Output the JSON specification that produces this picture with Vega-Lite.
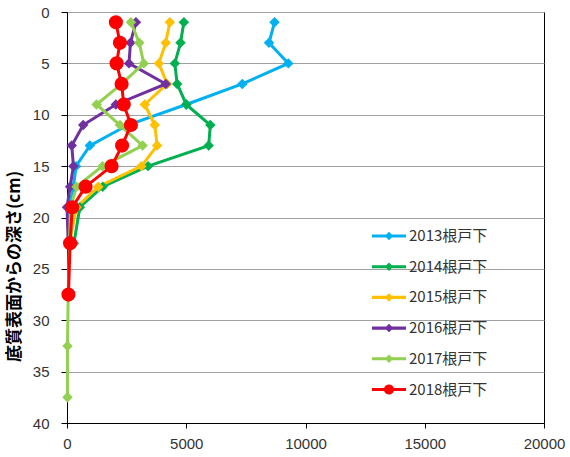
{
  "$schema": "https://vega.github.io/schema/vega-lite/v6.json",
  "autosize": {"type": "none"},
  "width": 477,
  "height": 411,
  "padding": {"left": 67, "top": 12, "right": 26, "bottom": 34},
  "background": "white",
  "config": {
    "view": {"stroke": "#000000", "strokeWidth": 1},
    "font": "Liberation Sans",
    "axis": {"labelFont": "Liberation Sans", "labelFontSize": 15, "labelColor": "#333333", "domainColor": "#000000", "tickColor": "#000000", "domainWidth": 1, "tickWidth": 1},
    "legend": {"orient": "none", "legendX": 305, "legendY": 207, "padding": 0, "symbolSize": 1156, "symbolStrokeWidth": 0, "symbolOpacity": 1,
      "labelFont": "Noto Sans CJK JP", "labelFontSize": 15, "labelColor": "#333333", "labelOffset": 3, "rowPadding": 5.7}
  },
  "data": {"values": [
    {"series": "2013根戸下", "depth": 1, "value": 8700},
    {"series": "2013根戸下", "depth": 3, "value": 8470},
    {"series": "2013根戸下", "depth": 5, "value": 9280},
    {"series": "2013根戸下", "depth": 7, "value": 7350},
    {"series": "2013根戸下", "depth": 9, "value": 5000},
    {"series": "2013根戸下", "depth": 11, "value": 2550},
    {"series": "2013根戸下", "depth": 13, "value": 960},
    {"series": "2013根戸下", "depth": 15, "value": 380},
    {"series": "2013根戸下", "depth": 17, "value": 270},
    {"series": "2013根戸下", "depth": 19, "value": 100},
    {"series": "2013根戸下", "depth": 22.5, "value": 50},
    {"series": "2014根戸下", "depth": 1, "value": 4900},
    {"series": "2014根戸下", "depth": 3, "value": 4760},
    {"series": "2014根戸下", "depth": 5, "value": 4520},
    {"series": "2014根戸下", "depth": 7, "value": 4620},
    {"series": "2014根戸下", "depth": 9, "value": 5000},
    {"series": "2014根戸下", "depth": 11, "value": 6010},
    {"series": "2014根戸下", "depth": 13, "value": 5940},
    {"series": "2014根戸下", "depth": 15, "value": 3400},
    {"series": "2014根戸下", "depth": 17, "value": 1500},
    {"series": "2014根戸下", "depth": 19, "value": 540},
    {"series": "2014根戸下", "depth": 22.5, "value": 290},
    {"series": "2015根戸下", "depth": 1, "value": 4310},
    {"series": "2015根戸下", "depth": 3, "value": 4140},
    {"series": "2015根戸下", "depth": 5, "value": 3850},
    {"series": "2015根戸下", "depth": 7, "value": 4200},
    {"series": "2015根戸下", "depth": 9, "value": 3260},
    {"series": "2015根戸下", "depth": 11, "value": 3680},
    {"series": "2015根戸下", "depth": 13, "value": 3780},
    {"series": "2015根戸下", "depth": 15, "value": 3120},
    {"series": "2015根戸下", "depth": 17, "value": 1310},
    {"series": "2015根戸下", "depth": 19, "value": 400},
    {"series": "2015根戸下", "depth": 22.5, "value": 100},
    {"series": "2016根戸下", "depth": 1, "value": 2890},
    {"series": "2016根戸下", "depth": 3, "value": 2660},
    {"series": "2016根戸下", "depth": 5, "value": 2600},
    {"series": "2016根戸下", "depth": 7, "value": 4140},
    {"series": "2016根戸下", "depth": 9, "value": 2050},
    {"series": "2016根戸下", "depth": 11, "value": 680},
    {"series": "2016根戸下", "depth": 13, "value": 200},
    {"series": "2016根戸下", "depth": 15, "value": 270},
    {"series": "2016根戸下", "depth": 17, "value": 130},
    {"series": "2016根戸下", "depth": 19, "value": 0},
    {"series": "2016根戸下", "depth": 22.5, "value": 50},
    {"series": "2017根戸下", "depth": 1, "value": 2680},
    {"series": "2017根戸下", "depth": 3, "value": 3030},
    {"series": "2017根戸下", "depth": 5, "value": 3220},
    {"series": "2017根戸下", "depth": 7, "value": 2290},
    {"series": "2017根戸下", "depth": 9, "value": 1240},
    {"series": "2017根戸下", "depth": 11, "value": 2220},
    {"series": "2017根戸下", "depth": 13, "value": 3170},
    {"series": "2017根戸下", "depth": 15, "value": 1490},
    {"series": "2017根戸下", "depth": 17, "value": 400},
    {"series": "2017根戸下", "depth": 19, "value": 150},
    {"series": "2017根戸下", "depth": 22.5, "value": 100},
    {"series": "2017根戸下", "depth": 27.5, "value": 50},
    {"series": "2017根戸下", "depth": 32.5, "value": 20},
    {"series": "2017根戸下", "depth": 37.5, "value": 20},
    {"series": "2018根戸下", "depth": 1, "value": 2050},
    {"series": "2018根戸下", "depth": 3, "value": 2220},
    {"series": "2018根戸下", "depth": 5, "value": 2080},
    {"series": "2018根戸下", "depth": 7, "value": 2290},
    {"series": "2018根戸下", "depth": 9, "value": 2380},
    {"series": "2018根戸下", "depth": 11, "value": 2680},
    {"series": "2018根戸下", "depth": 13, "value": 2310},
    {"series": "2018根戸下", "depth": 15, "value": 1870},
    {"series": "2018根戸下", "depth": 17, "value": 780},
    {"series": "2018根戸下", "depth": 19, "value": 220},
    {"series": "2018根戸下", "depth": 22.5, "value": 130},
    {"series": "2018根戸下", "depth": 27.5, "value": 60}
  ]},
  "encoding": {
    "x": {"field": "value", "type": "quantitative", "scale": {"domain": [0, 20000], "nice": false},
      "axis": {"title": null, "values": [0, 5000, 10000, 15000, 20000], "grid": false, "tickSize": 5, "labelPadding": 8, "format": "d", "labelFlush": false}},
    "y": {"field": "depth", "type": "quantitative", "scale": {"domain": [0, 40], "reverse": true, "nice": false},
      "axis": {"title": "底質表面からの深さ(cm)", "titleFont": "Noto Sans CJK JP", "titleFontSize": 17, "titleFontWeight": "bold", "titleColor": "#000000",
        "titleX": -53, "titleY": 254, "titleAngle": -90, "titleAlign": "center", "titleBaseline": "middle",
        "values": [0, 5, 10, 15, 20, 25, 30, 35, 40], "grid": true, "gridColor": "#a0a0a0", "gridWidth": 1.2, "tickSize": 6, "labelPadding": 12, "labelFlush": false}},
    "color": {"field": "series", "type": "nominal", "title": null,
      "scale": {"domain": ["2013根戸下", "2014根戸下", "2015根戸下", "2016根戸下", "2017根戸下", "2018根戸下"],
        "range": ["#00B0F0", "#00B050", "#FFC000", "#7030A0", "#92D050", "#FF0000"]}}
  },
  "layer": [
    {
      "mark": {"type": "line", "strokeWidth": 3},
      "encoding": {
        "order": {"field": "depth", "type": "quantitative"}
      }
    },
    {
      "transform": [{"filter": "datum.series !== '2018根戸下'"}],
      "mark": {"type": "point", "filled": true, "opacity": 1, "shape": "diamond", "size": 110}
    },
    {
      "transform": [{"filter": "datum.series === '2018根戸下'"}],
      "mark": {"type": "point", "filled": true, "opacity": 1, "shape": "circle", "size": 200}
    },
    {
      "mark": {"type": "point", "filled": true, "opacity": 0},
      "encoding": {
        "shape": {"field": "series", "type": "nominal", "title": null,
          "scale": {"domain": ["2013根戸下", "2014根戸下", "2015根戸下", "2016根戸下", "2017根戸下", "2018根戸下"],
            "range": [
              "M-1,-0.09 L-0.16,-0.09 L0,-0.25 L0.16,-0.09 L1,-0.09 L1,0.09 L0.16,0.09 L0,0.25 L-0.16,0.09 L-1,0.09 Z",
              "M-1,-0.09 L-0.16,-0.09 L0,-0.25 L0.16,-0.09 L1,-0.09 L1,0.09 L0.16,0.09 L0,0.25 L-0.16,0.09 L-1,0.09 Z",
              "M-1,-0.09 L-0.16,-0.09 L0,-0.25 L0.16,-0.09 L1,-0.09 L1,0.09 L0.16,0.09 L0,0.25 L-0.16,0.09 L-1,0.09 Z",
              "M-1,-0.09 L-0.16,-0.09 L0,-0.25 L0.16,-0.09 L1,-0.09 L1,0.09 L0.16,0.09 L0,0.25 L-0.16,0.09 L-1,0.09 Z",
              "M-1,-0.09 L-0.16,-0.09 L0,-0.25 L0.16,-0.09 L1,-0.09 L1,0.09 L0.16,0.09 L0,0.25 L-0.16,0.09 L-1,0.09 Z",
              "M-1,-0.09 L-0.286,-0.09 A0.3,0.3 0 0 1 0.286,-0.09 L1,-0.09 L1,0.09 L0.286,0.09 A0.3,0.3 0 0 1 -0.286,0.09 L-1,0.09 Z"
            ]}}
      }
    }
  ]
}
